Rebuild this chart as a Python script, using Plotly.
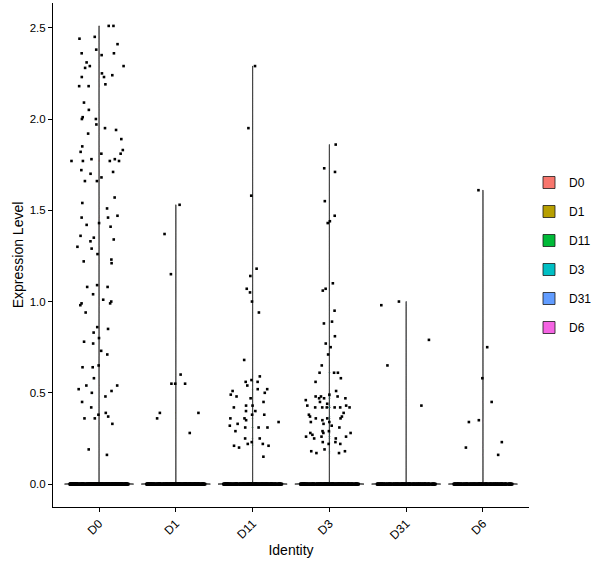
import plotly.graph_objects as go

# identities and ggplot default hue colours
identities = ["D0", "D1", "D11", "D3", "D31", "D6"]
colors = ["#F8766D", "#B79F00", "#00BA38", "#00BFC4", "#619CFF", "#F564E3"]

# non-zero expression values
d0_vals = [2.51, 2.51, 2.45, 2.44, 2.41, 2.38, 2.36, 2.36, 2.35, 2.31, 2.29, 2.29,
           2.28, 2.25, 2.24, 2.23, 2.23, 2.19, 2.18, 2.18, 2.09, 2.05, 2.01, 2.00,
           2.00, 1.97, 1.95, 1.94, 1.92, 1.89, 1.85, 1.83, 1.82, 1.81, 1.81, 1.78,
           1.78, 1.77, 1.77, 1.77, 1.77, 1.72, 1.71, 1.70, 1.68, 1.66, 1.66, 1.57,
           1.54, 1.51, 1.47, 1.46, 1.46, 1.43, 1.42, 1.41, 1.36, 1.35, 1.34, 1.33,
           1.30, 1.29, 1.26, 1.23, 1.22, 1.21, 1.09, 1.08, 1.08, 1.04, 1.01, 1.00,
           0.99, 0.99, 0.98, 0.94, 0.86, 0.85, 0.83, 0.80, 0.78, 0.77, 0.73, 0.71,
           0.65, 0.64, 0.64, 0.58, 0.54, 0.54, 0.52, 0.51, 0.50, 0.48, 0.45, 0.42,
           0.39, 0.38, 0.37, 0.36, 0.36, 0.33, 0.19, 0.16]
d1_vals = [1.53, 1.37, 1.15, 0.60, 0.55, 0.55, 0.55, 0.39, 0.39, 0.36, 0.28]
d11_vals = [2.29, 1.95, 1.58, 1.18, 1.14, 1.07, 1.05, 1.00, 0.94, 0.68, 0.59, 0.56,
            0.56, 0.57, 0.54, 0.52, 0.52, 0.51, 0.50, 0.49, 0.48, 0.47, 0.45, 0.43,
            0.42, 0.43, 0.40, 0.38, 0.38, 0.40, 0.36, 0.36, 0.35, 0.34, 0.33, 0.32,
            0.31, 0.29, 0.31, 0.31, 0.25, 0.25, 0.22, 0.21, 0.22, 0.21, 0.23, 0.20,
            0.15]
d3_vals = [1.86, 1.73, 1.71, 1.55, 1.47, 1.44, 1.43, 1.10, 1.07, 1.06, 0.95, 0.89,
           0.88, 0.81, 0.77, 0.75, 0.71, 0.65, 0.61, 0.61, 0.61, 0.58, 0.56, 0.51,
           0.49, 0.48, 0.48, 0.48, 0.47, 0.47, 0.47, 0.46, 0.45, 0.44, 0.43, 0.43,
           0.42, 0.42, 0.42, 0.42, 0.42, 0.42, 0.39, 0.38, 0.37, 0.37, 0.36, 0.36,
           0.36, 0.35, 0.34, 0.34, 0.33, 0.32, 0.31, 0.29, 0.29, 0.28, 0.28, 0.28,
           0.27, 0.26, 0.26, 0.26, 0.25, 0.25, 0.23, 0.23, 0.22, 0.22, 0.17, 0.18,
           0.18, 0.17, 0.19]
d31_vals = [1.00, 0.98, 0.79, 0.65, 0.43]
d6_vals = [1.61, 0.75, 0.58, 0.45, 0.35, 0.34, 0.23, 0.20, 0.16]

# estimated number of cells with zero expression per identity
zero_counts = [400, 350, 300, 300, 250, 250]

nonzero = [d0_vals, d1_vals, d11_vals, d3_vals, d31_vals, d6_vals]

fig = go.Figure()

for ident, col, vals, nz in zip(identities, colors, nonzero, zero_counts):
    allv = vals + [0.0] * nz
    # violin: very narrow bandwidth -> flat line at 0 plus thin spike
    fig.add_trace(go.Violin(
        x=[ident] * len(allv), y=allv, name=ident,
        fillcolor=col, line=dict(color="#1a1a1a", width=0.8),
        points=False, spanmode="hard", bandwidth=0.003,
        scalemode="width", width=0.9, hoverinfo="skip",
        legendgroup=ident, showlegend=True
    ))
    # jittered points, non-zero and zero separately so the jitter spreads evenly
    for pts in (vals, [0.0] * nz):
        fig.add_trace(go.Box(
            x=[ident] * len(pts), y=pts, name=ident,
            boxpoints="all", jitter=0.85, pointpos=0, width=0.9,
            fillcolor="rgba(0,0,0,0)", line=dict(width=0, color="rgba(0,0,0,0)"),
            marker=dict(color="black", size=2.6, symbol="square"),
            hoverinfo="skip", legendgroup=ident, showlegend=False
        ))

ymax = max(max(v) for v in nonzero)
pad = 0.05 * ymax

fig.update_layout(
    width=600, height=568,
    margin=dict(l=53, r=71, t=3, b=61, autoexpand=False),
    paper_bgcolor="white", plot_bgcolor="white",
    font=dict(family="Liberation Sans, Arial, sans-serif", color="black"),
    boxmode="overlay", violinmode="overlay",
    legend=dict(x=1.0, y=0.5, xanchor="left", yanchor="middle",
                font=dict(size=12), bgcolor="rgba(0,0,0,0)"),
    xaxis=dict(
        title=dict(text="Identity", font=dict(size=14), standoff=3),
        categoryorder="array", categoryarray=identities,
        range=[-0.6, len(identities) - 0.4], automargin=False,
        showline=True, linecolor="black", linewidth=1,
        ticks="outside", ticklen=4, tickcolor="black",
        tickangle=-45, tickfont=dict(size=12), showgrid=False, zeroline=False
    ),
    yaxis=dict(
        title=dict(text="Expression Level", font=dict(size=14), standoff=2),
        range=[-pad, ymax + pad], automargin=False,
        tickvals=[0, 0.5, 1.0, 1.5, 2.0, 2.5], tickformat=".1f",
        showline=True, linecolor="black", linewidth=1,
        ticks="outside", ticklen=4, tickcolor="black",
        tickfont=dict(size=11.5), showgrid=False, zeroline=False
    ),
)

# drop the page's default body margin so the figure sits at the window corner
fig.write_html("out.html", config={"displayModeBar": False},
               post_script="document.body.style.margin='0';")
